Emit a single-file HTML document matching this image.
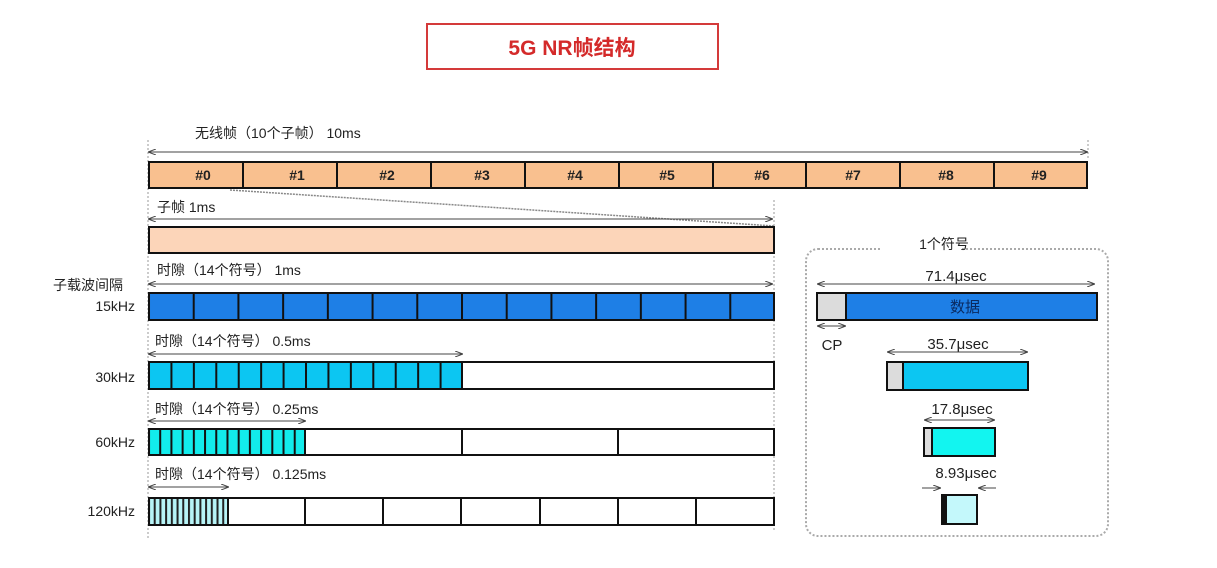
<!DOCTYPE html>
<html><head><meta charset="utf-8"><style>
body{margin:0;background:#fff;}
svg{display:block;font-family:"Liberation Sans","Noto Sans CJK SC",sans-serif;}
</style></head><body>
<svg width="1217" height="568" viewBox="0 0 1217 568">
<defs>
<marker id="a" markerWidth="8" markerHeight="6" refX="7" refY="3" orient="auto-start-reverse" markerUnits="userSpaceOnUse"><path d="M0,0 L8,3 L0,6" fill="none" stroke="#444" stroke-width="1"/></marker>
<pattern id="p15" x="148" y="0" width="44.714" height="10" patternUnits="userSpaceOnUse"><rect width="44.714" height="10" fill="#1e7fe6"/><rect width="2" height="10" fill="#111"/></pattern>
<pattern id="p30" x="148" y="0" width="22.43" height="10" patternUnits="userSpaceOnUse"><rect width="22.43" height="10" fill="#0cc6f2"/><rect width="2" height="10" fill="#111"/></pattern>
<pattern id="p60" x="148" y="0" width="11.21" height="10" patternUnits="userSpaceOnUse"><rect width="11.21" height="10" fill="#12ecec"/><rect width="2" height="10" fill="#111"/></pattern>
<pattern id="p120" x="148" y="0" width="5.71" height="10" patternUnits="userSpaceOnUse"><rect width="5.71" height="10" fill="#b7f4f7"/><rect width="2" height="10" fill="#222"/></pattern>
</defs>
<rect x="427" y="24" width="291" height="45" fill="#fff" stroke="#d43a3a" stroke-width="2"/>
<text x="572" y="55" text-anchor="middle" font-size="21" font-weight="bold" fill="#d42a2a">5G NR帧结构</text>

<g stroke="#999" stroke-dasharray="2,2" stroke-width="1">
<line x1="148" y1="140" x2="148" y2="540"/><line x1="774" y1="200" x2="774" y2="530"/><line x1="1088" y1="140" x2="1088" y2="160"/>
</g>
<text x="195" y="138" font-size="14" fill="#222">无线帧（10个子帧） 10ms</text>
<line x1="149" y1="152" x2="1087" y2="152" stroke="#444" marker-start="url(#a)" marker-end="url(#a)"/>
<g stroke="#111" stroke-width="2" fill="#f9c08f">
<rect x="149" y="162" width="938" height="26"/>
<line x1="243" y1="162" x2="243" y2="188"/><line x1="337" y1="162" x2="337" y2="188"/><line x1="431" y1="162" x2="431" y2="188"/><line x1="525" y1="162" x2="525" y2="188"/><line x1="619" y1="162" x2="619" y2="188"/><line x1="713" y1="162" x2="713" y2="188"/><line x1="806" y1="162" x2="806" y2="188"/><line x1="900" y1="162" x2="900" y2="188"/><line x1="994" y1="162" x2="994" y2="188"/>
</g>
<g font-size="14" font-weight="bold" fill="#222" text-anchor="middle">
<text x="203" y="180">#0</text><text x="297" y="180">#1</text><text x="387" y="180">#2</text><text x="482" y="180">#3</text><text x="575" y="180">#4</text><text x="667" y="180">#5</text><text x="762" y="180">#6</text><text x="853" y="180">#7</text><text x="946" y="180">#8</text><text x="1039" y="180">#9</text>
</g>
<line x1="230" y1="190" x2="774" y2="226" stroke="#888" stroke-width="1.5" stroke-dasharray="2,1"/>
<text x="157" y="212" font-size="14" fill="#222">子帧 1ms</text>
<line x1="149" y1="219" x2="772" y2="219" stroke="#444" marker-start="url(#a)" marker-end="url(#a)"/>
<rect x="149" y="227" width="625" height="26" fill="#fcd5b9" stroke="#111" stroke-width="2"/>

<text x="157" y="275" font-size="14" fill="#222">时隙（14个符号） 1ms</text>
<line x1="149" y1="284" x2="772" y2="284" stroke="#444" marker-start="url(#a)" marker-end="url(#a)"/>
<rect x="149" y="293" width="625" height="27" fill="url(#p15)" stroke="#111" stroke-width="2"/>
<text x="53" y="290" font-size="14" fill="#222">子载波间隔</text>
<text x="135" y="311" font-size="14" fill="#222" text-anchor="end">15kHz</text>

<text x="155" y="346" font-size="14" fill="#222">时隙（14个符号） 0.5ms</text>
<line x1="149" y1="354" x2="462" y2="354" stroke="#444" marker-start="url(#a)" marker-end="url(#a)"/>
<rect x="149" y="362" width="625" height="27" fill="#fff" stroke="#111" stroke-width="2"/>
<rect x="149" y="362" width="313" height="27" fill="url(#p30)" stroke="#111" stroke-width="2"/>
<text x="135" y="382" font-size="14" fill="#222" text-anchor="end">30kHz</text>

<text x="155" y="414" font-size="14" fill="#222">时隙（14个符号） 0.25ms</text>
<line x1="149" y1="421" x2="305" y2="421" stroke="#444" marker-start="url(#a)" marker-end="url(#a)"/>
<rect x="149" y="429" width="625" height="26" fill="#fff" stroke="#111" stroke-width="2"/>
<rect x="149" y="429" width="156" height="26" fill="url(#p60)" stroke="#111" stroke-width="2"/>
<line x1="462" y1="429" x2="462" y2="455" stroke="#111" stroke-width="2"/><line x1="618" y1="429" x2="618" y2="455" stroke="#111" stroke-width="2"/>
<text x="135" y="447" font-size="14" fill="#222" text-anchor="end">60kHz</text>

<text x="155" y="479" font-size="14" fill="#222">时隙（14个符号） 0.125ms</text>
<line x1="149" y1="487" x2="228" y2="487" stroke="#444" marker-start="url(#a)" marker-end="url(#a)"/>
<rect x="149" y="498" width="625" height="27" fill="#fff" stroke="#111" stroke-width="2"/>
<rect x="149" y="498" width="79" height="27" fill="url(#p120)" stroke="#111" stroke-width="2"/>
<g stroke="#111" stroke-width="2"><line x1="305" y1="498" x2="305" y2="525"/><line x1="383" y1="498" x2="383" y2="525"/><line x1="461" y1="498" x2="461" y2="525"/><line x1="540" y1="498" x2="540" y2="525"/><line x1="618" y1="498" x2="618" y2="525"/><line x1="696" y1="498" x2="696" y2="525"/></g>
<text x="135" y="516" font-size="14" fill="#222" text-anchor="end">120kHz</text>

<rect x="806" y="249" width="302" height="287" rx="12" fill="none" stroke="#aaa" stroke-width="2" stroke-dasharray="2,2"/>
<rect x="880" y="236" width="80" height="18" fill="#fff"/>
<text x="944" y="249" font-size="14" fill="#222" text-anchor="middle">1个符号</text>
<text x="956" y="281" font-size="15" fill="#222" text-anchor="middle">71.4μsec</text>
<line x1="818" y1="284" x2="1094" y2="284" stroke="#444" marker-start="url(#a)" marker-end="url(#a)"/>
<rect x="817" y="293" width="280" height="27" fill="#1e7fe6" stroke="#111" stroke-width="2"/>
<rect x="817" y="293" width="29" height="27" fill="#dcdcdc" stroke="#111" stroke-width="2"/>
<text x="965" y="312" font-size="15" fill="#0a2a60" text-anchor="middle">数据</text>
<line x1="818" y1="326" x2="845" y2="326" stroke="#444" marker-start="url(#a)" marker-end="url(#a)"/>
<text x="832" y="350" font-size="15" fill="#222" text-anchor="middle">CP</text>
<text x="958" y="349" font-size="15" fill="#222" text-anchor="middle">35.7μsec</text>
<line x1="888" y1="352" x2="1027" y2="352" stroke="#444" marker-start="url(#a)" marker-end="url(#a)"/>
<rect x="887" y="362" width="141" height="28" fill="#0cc6f2" stroke="#111" stroke-width="2"/>
<rect x="887" y="362" width="16" height="28" fill="#dcdcdc" stroke="#111" stroke-width="2"/>
<text x="962" y="414" font-size="15" fill="#222" text-anchor="middle">17.8μsec</text>
<line x1="925" y1="420" x2="994" y2="420" stroke="#444" marker-start="url(#a)" marker-end="url(#a)"/>
<rect x="924" y="428" width="71" height="28" fill="#12f5f0" stroke="#111" stroke-width="2"/>
<rect x="924" y="428" width="8" height="28" fill="#dcdcdc" stroke="#111" stroke-width="2"/>
<text x="966" y="478" font-size="15" fill="#222" text-anchor="middle">8.93μsec</text>
<line x1="922" y1="488" x2="940" y2="488" stroke="#444" marker-end="url(#a)"/>
<line x1="996" y1="488" x2="979" y2="488" stroke="#444" marker-end="url(#a)"/>
<rect x="942" y="495" width="35" height="29" fill="#c4f8fb" stroke="#111" stroke-width="2"/>
<rect x="942" y="495" width="5" height="29" fill="#111"/>
</svg>
</body></html>
